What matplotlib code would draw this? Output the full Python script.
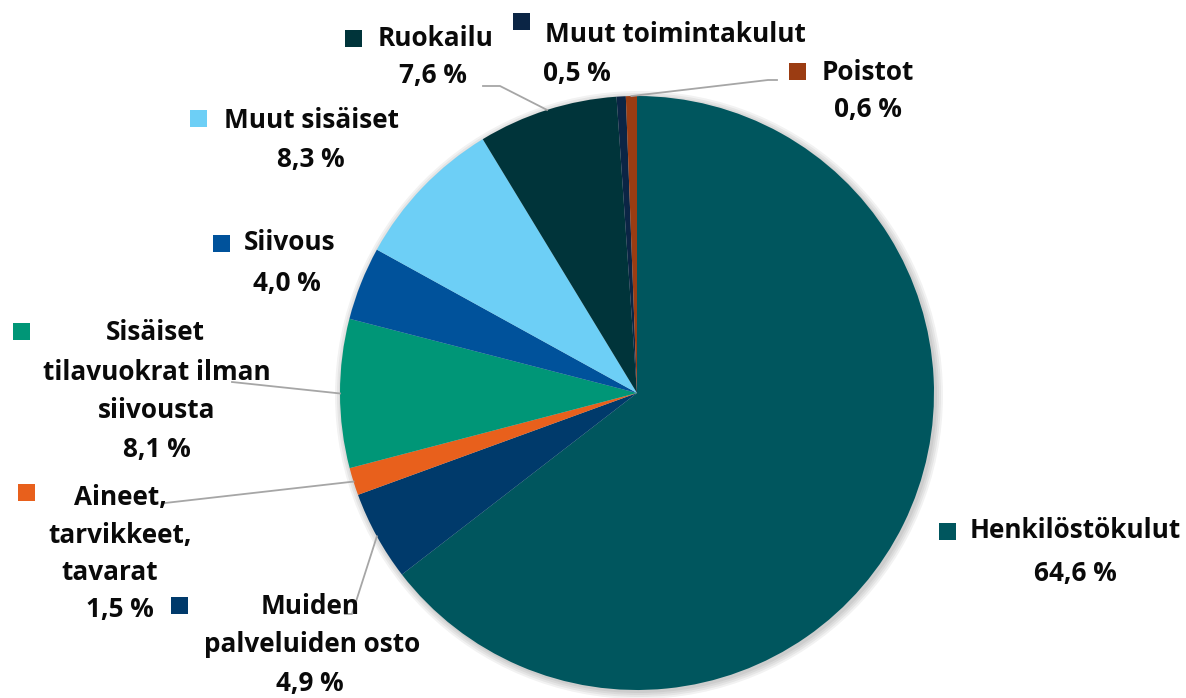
import matplotlib
matplotlib.use('Agg')
import matplotlib.pyplot as plt
from matplotlib.patches import Rectangle
import numpy as np

# ── Data ──────────────────────────────────────────────────────────────────────
categories = ['Henkilöstökulut', 'Muiden palveluiden osto', 'Aineet, tarvikkeet, tavarat',
              'Sisäiset tilavuokrat ilman siivousta', 'Siivous', 'Muut sisäiset',
              'Ruokailu', 'Muut toimintakulut', 'Poistot']
shares = [64.6, 4.9, 1.5, 8.1, 4.0, 8.3, 7.6, 0.5, 0.6]
colors = ['#00565E', '#003A6B', '#E8601C', '#009677', '#00529B',
          '#6DCFF6', '#00343A', '#0B2545', '#9B3C12']

# label name lines as shown on the chart
name_lines = [['Henkilöstökulut'], ['Muiden', 'palveluiden osto'],
              ['Aineet,', 'tarvikkeet,', 'tavarat'],
              ['Sisäiset', 'tilavuokrat ilman', 'siivousta'], ['Siivous'],
              ['Muut sisäiset'], ['Ruokailu'], ['Muut toimintakulut'], ['Poistot']]

W, H = 1186, 698
CX, CY, R = 637, H - 393, 297

fig = plt.figure(figsize=(W / 100, H / 100), dpi=100)
fig.patch.set_facecolor('white')
ax = fig.add_axes([0, 0, 1, 1])

# soft shadow
for k, a in enumerate([0.05, 0.05, 0.05, 0.05]):
    ax.add_patch(plt.Circle((CX + 2, CY - 2), R + 1 + 2 * k, color='black',
                            alpha=a, lw=0, zorder=0))

wedges, _ = ax.pie(shares, colors=colors, startangle=90, counterclock=False,
                   center=(CX, CY), radius=R, frame=True,
                   wedgeprops=dict(linewidth=0, edgecolor='white'))
ax.set_xlim(0, W)
ax.set_ylim(0, H)
ax.axis('off')


def edge_point(w):
    ang = np.deg2rad((w.theta1 + w.theta2) / 2)
    return CX + R * np.cos(ang), CY + R * np.sin(ang)


FONT = dict(family=['Open Sans', 'DejaVu Sans'], fontweight='bold', fontsize=18.8,
            color='#0A0A0A')

# layout in pixel coords (y from top): square centre, name line centres, pct centre
layout = [
    dict(sq=(947, 531), names=[(1075, 531)], pct=(1075, 573), ha='center'),
    dict(sq=(179, 605), names=[(310, 606), (312, 645)], pct=(310, 683), ha='center'),
    dict(sq=(26, 492), names=[(120, 497), (120, 535), (110, 573)], pct=(120, 610), ha='center'),
    dict(sq=(21, 331), names=[(155, 333), (157, 372), (157, 410)], pct=(157, 449), ha='center'),
    dict(sq=(221, 243), names=[(290, 243)], pct=(287, 283), ha='center'),
    dict(sq=(198, 118), names=[(311, 120)], pct=(311, 159), ha='center'),
    dict(sq=(353, 38), names=[(436, 38)], pct=(433, 76), ha='center'),
    dict(sq=(521, 21), names=[(545, 35)], pct=(543, 73), ha='left'),
    dict(sq=(797, 71), names=[(868, 72)], pct=(868, 110), ha='center'),
]
# leader line start points (pixel coords), None = no leader
leaders = [None, [(345, 614), (352, 614)], [(165, 503)], [(232, 382)], None, None,
           [(483, 86), (500, 86)], None, [(777, 80), (768, 80)]]

SQ = 17
for i, (w, lay) in enumerate(zip(wedges, layout)):
    sx, sy = lay['sq']
    ax.add_patch(Rectangle((sx - SQ / 2, H - sy - SQ / 2), SQ, SQ,
                           facecolor=colors[i], edgecolor='none', zorder=4))
    ha = lay['ha']
    for line, (tx, ty) in zip(name_lines[i], lay['names']):
        ax.text(tx, H - ty, line, ha=ha, va='center', zorder=5, **FONT)
    pct = f"{shares[i]:.1f} %".replace('.', ',')
    px, py = lay['pct']
    ax.text(px, H - py, pct, ha=ha, va='center', zorder=5, **FONT)
    if leaders[i] is not None:
        pts = [(x, H - y) for x, y in leaders[i]] + [edge_point(w)]
        xs, ys = zip(*pts)
        ax.plot(xs, ys, color='#A6A6A6', lw=1.3, zorder=3)

plt.savefig('out.png', dpi=100, facecolor='white')
plt.close()
